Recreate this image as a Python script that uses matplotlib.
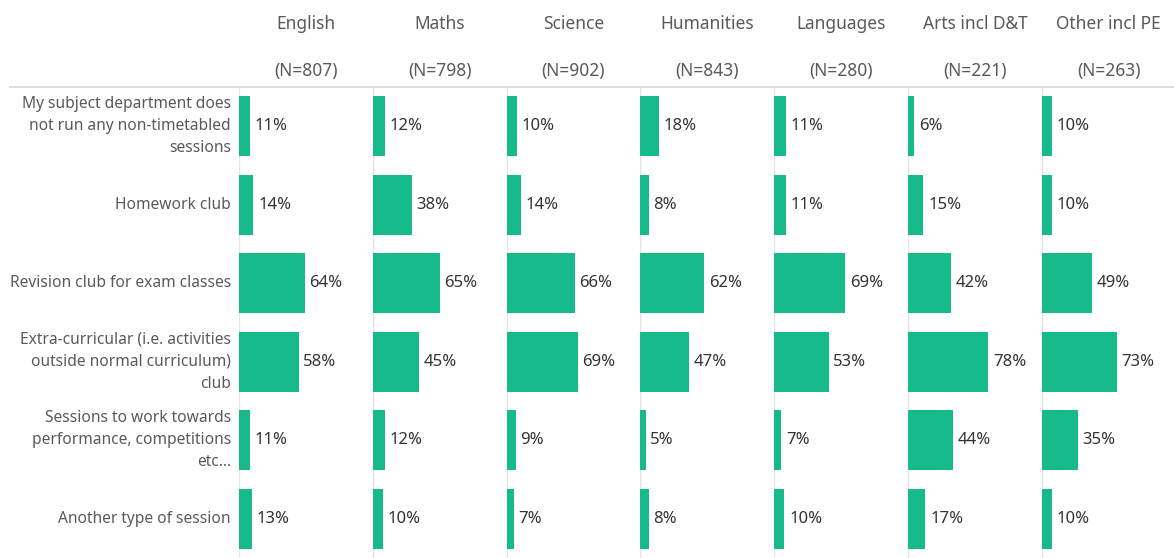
import matplotlib
matplotlib.use("Agg")
import matplotlib.pyplot as plt
from matplotlib.lines import Line2D

# ---- data ----
SUBJECTS = ["English", "Maths", "Science", "Humanities", "Languages",
            "Arts incl D&T", "Other incl PE"]
SAMPLE_N = [807, 798, 902, 843, 280, 221, 263]
SESSIONS = [
    "My subject department does\nnot run any non-timetabled\nsessions",
    "Homework club",
    "Revision club for exam classes",
    "Extra-curricular (i.e. activities\noutside normal curriculum)\nclub",
    "Sessions to work towards\nperformance, competitions\netc...",
    "Another type of session",
]
ENGLISH    = [11, 14, 64, 58, 11, 13]
MATHS      = [12, 38, 65, 45, 12, 10]
SCIENCE    = [10, 14, 66, 69, 9, 7]
HUMANITIES = [18, 8, 62, 47, 5, 8]
LANGUAGES  = [11, 11, 69, 53, 7, 10]
ARTS       = [6, 15, 42, 78, 44, 17]
OTHER      = [10, 10, 49, 73, 35, 10]
VALUES = [ENGLISH, MATHS, SCIENCE, HUMANITIES, LANGUAGES, ARTS, OTHER]

# ---- style ----
BAR    = "#17bb8b"
GRID   = "#e4e4e4"
LABEL  = "#5a5a5a"
VALUE  = "#333333"
plt.rcParams["font.family"] = ["Noto Sans", "DejaVu Sans"]

W, H = 1174, 558
fig = plt.figure(figsize=(W / 100, H / 100), dpi=100)
fig.patch.set_facecolor("white")

top_px = 87          # header rule
left0 = 239          # first panel left edge
step = 133.8         # panel width in px
xmax = 130           # percent range across one panel

def px_box(x0, y0, w, h):
    return [x0 / W, 1 - (y0 + h) / H, w / W, h / H]

n_rows = len(SESSIONS)
for i, (subj, n, vals) in enumerate(zip(SUBJECTS, SAMPLE_N, VALUES)):
    ax = fig.add_axes(px_box(left0 + step * i, top_px, step, H - top_px))
    ax.barh(range(n_rows), vals, height=0.76, color=BAR, zorder=2)
    for r, v in enumerate(vals):
        ax.text(v + 4.5, r, f"{v}%", va="center", ha="left",
                fontsize=12, color=VALUE)
    ax.set_xlim(0, xmax)
    ax.set_ylim(n_rows - 0.5, -0.5)
    ax.axvline(0, color=GRID, linewidth=1, zorder=1)
    ax.axis("off")

    cx = (left0 + step * i + step / 2) / W
    fig.text(cx, 1 - 24 / H, subj, ha="center", va="center",
             fontsize=12.5, color=LABEL, fontweight="light")
    fig.text(cx, 1 - 71 / H, f"(N={n})", ha="center", va="center",
             fontsize=12.5, color=LABEL, fontweight="light")

# row labels
row_h = (H - top_px) / n_rows
for r, label in enumerate(SESSIONS):
    y = 1 - (top_px + row_h * (r + 0.5)) / H
    fig.text(231 / W, y, label, ha="right", va="center", fontsize=11.2,
             color=LABEL, linespacing=1.5)

# header rule
fig.add_artist(Line2D([10 / W, 1], [1 - top_px / H] * 2,
                      color="#d8d8d8", linewidth=1.2))

fig.savefig("out.png", dpi=100, facecolor="white")
